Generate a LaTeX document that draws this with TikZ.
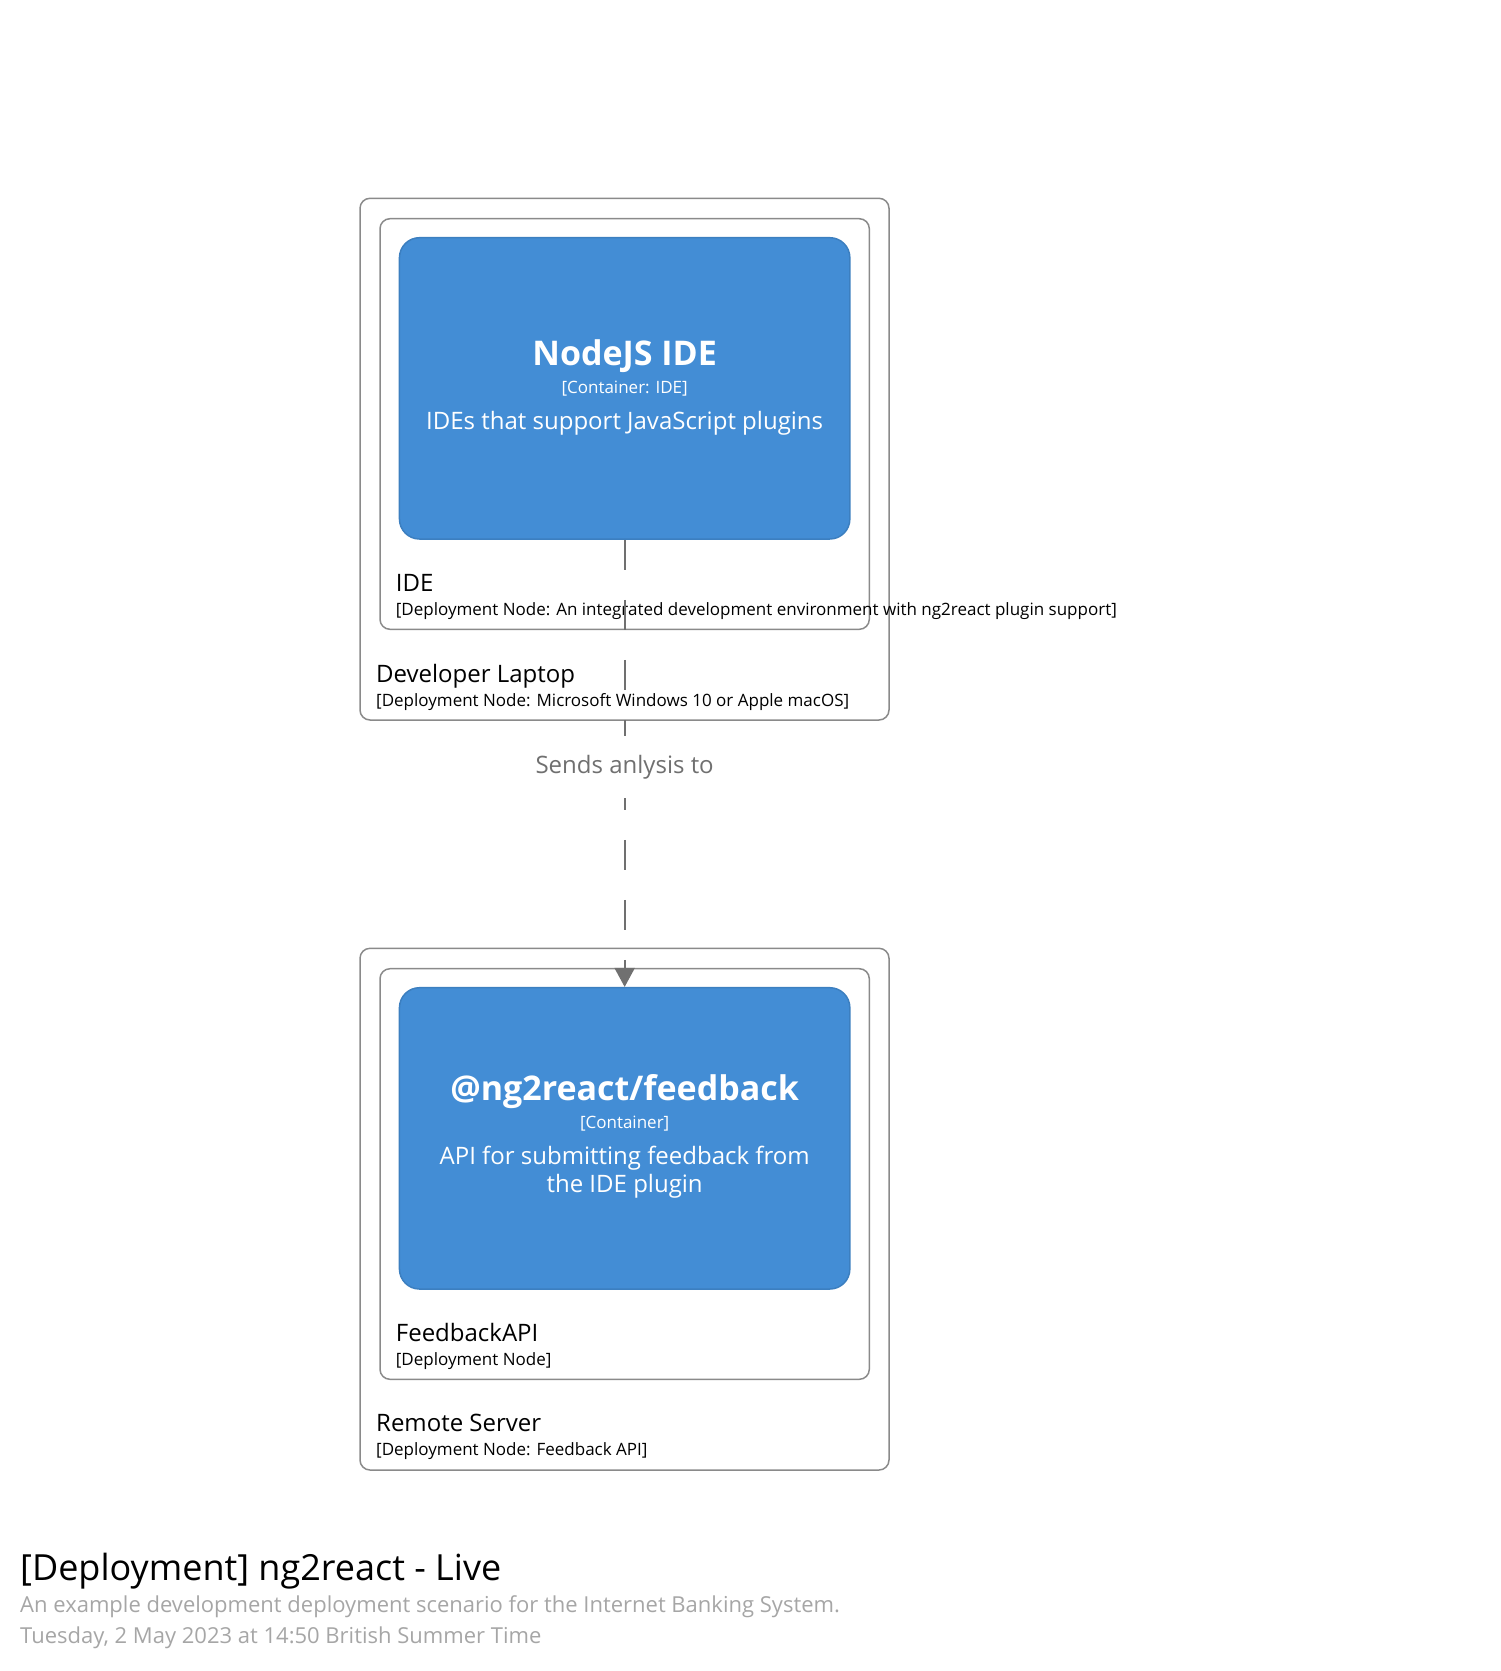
\documentclass[tikz,border=0pt]{standalone}
\usepackage{fontspec}
\setmainfont{Open Sans}
\usepackage{xcolor}
\usepackage{tikz}
\usetikzlibrary{arrows.meta}

\definecolor{containerblue}{HTML}{438DD5}
\definecolor{containerline}{HTML}{3C7FC0}
\definecolor{nodeline}{HTML}{8A8A8A}
\definecolor{relgray}{HTML}{707070}
\definecolor{metagray}{HTML}{A6A6A6}

\newcommand{\pxfont}[1]{\fontsize{#1}{#1}\selectfont}

\begin{document}
\begin{tikzpicture}[x=1pt,y=-1pt,
  container/.style={draw=containerline,fill=containerblue,line width=1.5pt,rounded corners=20pt,
    minimum width=450.4pt,minimum height=301.3pt,inner sep=0pt},
  deploynode/.style={draw=nodeline,line width=1.5pt,rounded corners=10pt,inner sep=0pt},
  ctext/.style={white,anchor=base,inner sep=0pt},
  dtext/.style={anchor=base west,inner sep=0pt}]
\useasboundingbox (0,0) rectangle (1500,1671);

% Developer Laptop
\node[deploynode,minimum width=529pt,minimum height=521.7pt] (laptop) at (624.5,459.15) {};
\node[dtext,font=\pxfont{24}] (laptopName) at (376,682) {Developer Laptop};
\node[dtext,font=\pxfont{17}] (laptopType) at (376,706) {[Deployment Node: Microsoft Windows 10 or Apple macOS]};

% IDE
\node[deploynode,minimum width=489.3pt,minimum height=410.6pt] (ideNode) at (624.65,424) {};
\node[dtext,font=\pxfont{24}] (ideNodeName) at (395.7,591) {IDE};
\node[dtext,font=\pxfont{17}] (ideNodeType) at (395.7,615) {[Deployment Node: An integrated development environment with ng2react plugin support]};

% NodeJS IDE container
\node[container] (nodejs) at (624.65,388.35) {};
\node[ctext,font=\pxfont{34}\bfseries] (nodejsName) at (624.65,365) {NodeJS IDE};
\node[ctext,font=\pxfont{17}] (nodejsType) at (624.65,393) {[Container: IDE]};
\node[ctext,font=\pxfont{24}] (nodejsDesc) at (624.65,429) {IDEs that support JavaScript plugins};

% Remote Server
\node[deploynode,minimum width=529pt,minimum height=521.7pt] (server) at (624.5,1209.15) {};
\node[dtext,font=\pxfont{24}] (serverName) at (376,1431.7) {Remote Server};
\node[dtext,font=\pxfont{17}] (serverType) at (376,1455.7) {[Deployment Node: Feedback API]};

% FeedbackAPI
\node[deploynode,minimum width=489.3pt,minimum height=410.6pt] (apiNode) at (624.65,1174) {};
\node[dtext,font=\pxfont{24}] (apiNodeName) at (395.7,1341) {FeedbackAPI};
\node[dtext,font=\pxfont{17}] (apiNodeType) at (395.7,1365) {[Deployment Node]};

% @ng2react/feedback container
\node[container] (feedback) at (624.65,1138.35) {};
\node[ctext,font=\pxfont{34}\bfseries] (feedbackName) at (624.65,1100) {@ng2react/feedback};
\node[ctext,font=\pxfont{17}] (feedbackType) at (624.65,1128) {[Container]};
\node[ctext,font=\pxfont{24}] (feedbackDesc) at (624.65,1164) {API for submitting feedback from};
\node[ctext,font=\pxfont{24}] (feedbackDescTwo) at (624.65,1192.7) {the IDE plugin};

% Relationship
\draw[relgray,line width=2pt,dash pattern=on 30pt off 30pt,-{Triangle[width=20pt,length=19pt]}]
  (nodejs.south) -- node[midway,fill=white,text=relgray,font=\pxfont{24},text height=22pt,
  text depth=10pt,inner ysep=15pt,inner xsep=4pt,yshift=-4pt] (sendsLabel) {Sends anlysis to} (feedback.north);

% Diagram title
\node[dtext,font=\pxfont{36}] (title) at (20,1580) {[Deployment] ng2react - Live};
\node[dtext,font=\pxfont{22},text=metagray] (subtitle) at (20,1612.5) {An example development deployment scenario for the Internet Banking System.};
\node[dtext,font=\pxfont{22},text=metagray] (timestamp) at (20,1643) {Tuesday, 2 May 2023 at 14:50 British Summer Time};
\end{tikzpicture}
\end{document}
